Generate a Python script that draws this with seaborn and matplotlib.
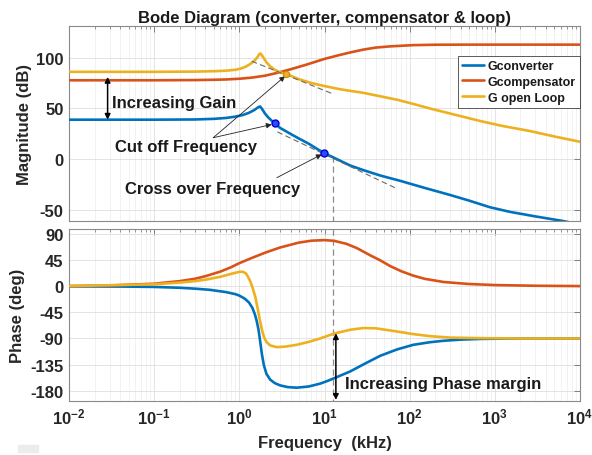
import matplotlib
matplotlib.use("Agg")
import matplotlib.pyplot as plt
import pandas as pd
import seaborn as sns
from matplotlib.lines import Line2D
from matplotlib.patches import Rectangle
from matplotlib.ticker import FixedLocator, LogLocator, NullFormatter

# ---- frequency response data (frequency in kHz) ----
conv_mag_f = [0.01, 0.1, 0.3, 0.5, 0.7, 0.9, 1.1, 1.3, 1.5, 1.65, 1.75, 1.85, 2.0, 2.2, 2.4,
              2.62, 3.0, 3.5, 4.0, 5.0, 6.5, 8.1, 9.9, 13, 20, 28.5, 45, 77, 150, 300, 500,
              877, 1500, 3000, 6300, 10000]
conv_mag_db = [39, 39, 39.2, 39.8, 40.7, 42, 43.6, 45.8, 48.5, 51, 52, 49.5, 45, 41, 38,
               35.3, 31, 27.8, 25, 20.5, 15.5, 10.5, 6.2, 1.5, -6, -10.5, -15.8, -21, -28, -35, -40.5,
               -47, -51.5, -56, -60.5, -64]

comp_mag_f = [0.01, 0.1, 0.3, 0.5, 0.7, 1.0, 1.4, 2.0, 2.8, 4.0, 6.0, 10, 15, 20, 28.5, 40,
              59, 110, 200, 500, 1000, 10000]
comp_mag_db = [77.7, 77.7, 77.9, 78.2, 78.5, 79.2, 80.3, 82.2, 85.0, 88.5, 92.8, 98.7, 102.5,
               105, 107.8, 109.8, 111, 112.2, 112.6, 112.7, 112.7, 112.7]

loop_mag_f = [0.01, 0.1, 0.3, 0.5, 0.7, 0.9, 1.05, 1.2, 1.35, 1.5, 1.62, 1.72, 1.78, 1.85,
              1.95, 2.1, 2.3, 2.6, 3.0, 3.5, 3.9, 5.0, 7.0, 10, 15, 20, 28.5, 45, 71, 110, 173,
              300, 680, 1200, 2600, 5000, 10000]
loop_mag_db = [86, 86, 86.2, 86.6, 87.1, 88, 89.3, 91.2, 93.8, 96.8, 100, 103.5, 104, 102,
               99, 95, 91.5, 88, 85.5, 84, 82.6, 78.8, 75, 72, 69, 67.3, 65.4, 62, 58.6, 54.5, 50,
               45, 37.6, 33, 27.8, 22.5, 17.3]

conv_ph_f = [0.01, 0.05, 0.1, 0.2, 0.3, 0.45, 0.7, 0.9, 1.0, 1.15, 1.3, 1.42, 1.52, 1.6, 1.68,
             1.76, 1.84, 1.94, 2.08, 2.3, 2.6, 3.0, 3.7, 4.7, 6.5, 8.9, 11, 13.3, 20, 28.5, 45,
             71, 110, 173, 250, 400, 680, 1200, 2000, 10000]
conv_ph_deg = [0, -0.5, -1, -2.5, -4, -6, -10, -13.5, -16, -21, -28, -37, -48, -60, -75,
               -96, -117, -136, -151, -161, -167, -171, -174, -175, -173, -168, -163, -158, -147,
               -135, -120, -109, -101, -96.5, -94, -92, -90.8, -90.3, -90, -90]

comp_ph_f = [0.01, 0.03, 0.1, 0.2, 0.3, 0.4, 0.6, 0.8, 1.0, 1.4, 2.0, 3.0, 5.0, 7.0, 10, 13,
             18, 24, 35, 45, 59, 80, 110, 150, 250, 500, 1000, 3000, 10000]
comp_ph_deg = [0.5, 1.5, 4.5, 9, 13, 17.5, 25.5, 33, 40, 49, 58, 67, 75.5, 78.8, 79.8, 78.5,
               73.5, 66, 53, 45, 35, 26, 18.5, 13, 7.5, 4, 2.2, 1, 0.4]

loop_ph_f = [0.01, 0.1, 0.2, 0.3, 0.4, 0.6, 0.8, 1.0, 1.1, 1.2, 1.27, 1.35, 1.45, 1.55, 1.65,
             1.75, 1.85, 1.95, 2.08, 2.3, 2.75, 3.5, 4.7, 6.5, 8.9, 11.6, 13.9, 20, 28.5, 40,
             71, 110, 173, 300, 680, 2000, 10000]
loop_ph_deg = [0.5, 3.5, 6.5, 9, 11.5, 16.5, 21.5, 25, 25.3, 22, 16, 8, -5, -20, -40,
               -60, -76, -88, -96, -102, -105, -104, -101, -96, -90, -84, -80.5, -75, -72, -72.5,
               -78, -82.5, -86, -88.5, -89.5, -90, -90]

series_names = ["Gconverter", "Gcompensator", "G open Loop"]
series_colors = ["#0072BD", "#D95319", "#EDB120"]

# marked points: cut-off (converter, open loop) and cross-over (converter)
cutoff_conv = (2.62, 35.3)
cutoff_loop = (3.5, 84.0)
crossover_conv = (9.9, 6.2)

# asymptote guide lines
guide_conv_f, guide_conv_db = [2.8, 70.5], [27.0, -28.7]
guide_loop_f, guide_loop_db = [1.4, 12.5], [96.4, 64.4]

# frequency of the phase-margin marker line
margin_f = 12.7

mag_ticks = [-50, 0, 50, 100]
phase_ticks = [-180, -135, -90, -45, 0, 45, 90]
decade_ticks = [1e-2, 1e-1, 1e0, 1e1, 1e2, 1e3, 1e4]
decade_labels = [r"$\mathbf{10^{-2}}$", r"$\mathbf{10^{-1}}$", r"$\mathbf{10^{0}}$",
                 r"$\mathbf{10^{1}}$", r"$\mathbf{10^{2}}$", r"$\mathbf{10^{3}}$",
                 r"$\mathbf{10^{4}}$"]


def long_frame(parts):
    frames = [pd.DataFrame({"freq": f, "value": v, "series": name}) for name, f, v in parts]
    return pd.concat(frames, ignore_index=True)


mag_df = long_frame([
    ("Gconverter", conv_mag_f, conv_mag_db),
    ("Gcompensator", comp_mag_f, comp_mag_db),
    ("G open Loop", loop_mag_f, loop_mag_db),
])
phase_df = long_frame([
    ("Gconverter", conv_ph_f, conv_ph_deg),
    ("Gcompensator", comp_ph_f, comp_ph_deg),
    ("G open Loop", loop_ph_f, loop_ph_deg),
])

sns.set_theme(style="whitegrid")
plt.rcParams.update({
    "font.family": ["Liberation Sans", "DejaVu Sans"],
    "font.weight": "bold",
    "axes.labelweight": "bold",
    "axes.titleweight": "bold",
    "axes.unicode_minus": False,
    "mathtext.fontset": "custom",
    "mathtext.rm": "Liberation Sans:bold",
    "mathtext.bf": "Liberation Sans:bold",
    "mathtext.it": "Liberation Sans:bold",
    "text.color": "#1a1a1a",
})

W, H = 592, 456
fig = plt.figure(figsize=(W / 100, H / 100), dpi=100, facecolor="white")
ax1 = fig.add_axes([69 / W, 1 - 222 / H, 511 / W, 195 / H])
ax2 = fig.add_axes([69 / W, 1 - 402 / H, 511 / W, 172 / H])

palette = dict(zip(series_names, series_colors))
for ax, df in ((ax1, mag_df), (ax2, phase_df)):
    ax.set_xscale("log")
    sns.lineplot(data=df, x="freq", y="value", hue="series", hue_order=series_names,
                 palette=palette, estimator=None, sort=False, lw=1.9, ax=ax,
                 legend=False, zorder=3)
    for ln in ax.lines:
        ln.set_solid_joinstyle("round")

for ax in (ax1, ax2):
    ax.set_xlim(1e-2, 1e4)
    ax.set_facecolor("white")
    ax.xaxis.set_major_locator(FixedLocator(decade_ticks))
    ax.xaxis.set_minor_locator(LogLocator(base=10, subs=range(2, 10), numticks=20))
    ax.xaxis.set_minor_formatter(NullFormatter())
    ax.grid(True, which="major", color="#dedede", lw=0.6)
    ax.grid(True, which="minor", axis="x", color="#ededed", lw=0.5)
    ax.tick_params(which="both", direction="in", top=True, right=True,
                   color="#6e6e6e", labelsize=12, labelcolor="#262626", pad=4)
    ax.tick_params(which="major", length=4, width=0.6)
    ax.tick_params(which="minor", length=2.2, width=0.5)
    for sp in ax.spines.values():
        sp.set_color("#8a8a8a")
        sp.set_linewidth(0.8)
    ax.set_axisbelow(True)

# ---- magnitude panel ----
ax1.set_ylim(-60.5, 131)
ax1.set_yticks(mag_ticks)
ax1.set_xticklabels([])
ax1.set_xlabel("")
ax1.set_ylabel("Magnitude (dB)", fontsize=12)
ax1.yaxis.set_label_coords(-0.072, 0.5)
ax1.set_title("Bode Diagram (converter, compensator & loop)", fontsize=12, pad=3)

ax1.plot(guide_conv_f, guide_conv_db, color="#6a6a6a", lw=0.8, ls=(0, (5, 3)), zorder=4)
ax1.plot(guide_loop_f, guide_loop_db, color="#6a6a6a", lw=0.8, ls=(0, (5, 3)), zorder=4)
ax1.plot([margin_f, margin_f], [3.0, -60.5], color="#8c8c8c", lw=0.9, ls=(0, (5, 3)), zorder=2)

ax1.plot(*cutoff_conv, marker="o", ms=5, mfc="#2a4bff", mec="#0000d0", mew=1.0, zorder=6)
ax1.plot(*crossover_conv, marker="o", ms=5, mfc="#2a4bff", mec="#0000d0", mew=1.0, zorder=6)
ax1.plot(*cutoff_loop, marker="o", ms=4.5, mfc="#EDB120", mec="#c98a10", mew=0.8, zorder=6)

arrow_kw = dict(arrowstyle="-|>", color="#222222", lw=0.6, mutation_scale=8,
                shrinkA=0, shrinkB=0)
ax1.annotate("", xy=(2.4, 34.3), xytext=(0.494, 21.3), arrowprops=arrow_kw, zorder=5)
ax1.annotate("", xy=(3.44, 81.7), xytext=(0.494, 21.3), arrowprops=arrow_kw, zorder=5)
ax1.annotate("", xy=(9.27, 4.9), xytext=(2.75, -18.0), arrowprops=arrow_kw, zorder=5)

dbl_kw = dict(arrowstyle="<|-|>", color="black", lw=1.1, mutation_scale=8,
              shrinkA=0, shrinkB=0)
ax1.annotate("", xy=(0.0284, 81.0), xytext=(0.0284, 39.0), arrowprops=dbl_kw, zorder=5)

ax1.text(0.0317, 55.6, "Increasing Gain", fontsize=12, ha="left", va="center", zorder=5)
ax1.text(0.0347, 13.0, "Cut off Frequency", fontsize=12, ha="left", va="center", zorder=5)
ax1.text(0.0455, -28.4, "Cross over Frequency", fontsize=12, ha="left", va="center", zorder=5)

handles = [Line2D([0], [0], color=c, lw=1.9) for c in series_colors]
leg = ax1.legend(handles, series_names, loc="upper right", bbox_to_anchor=(1.0, 0.848),
                 fontsize=9, frameon=True, fancybox=False, edgecolor="#404040",
                 framealpha=1, handlelength=1.75, borderpad=0.35, labelspacing=0.3,
                 handletextpad=0.3, borderaxespad=0)
leg.get_frame().set_linewidth(0.6)

# ---- phase panel ----
ax2.set_ylim(-198, 99)
ax2.set_yticks(phase_ticks)
ax2.set_xticklabels(decade_labels)
ax2.set_ylabel("Phase (deg)", fontsize=12)
ax2.yaxis.set_label_coords(-0.086, 0.5)
ax2.set_xlabel("Frequency  (kHz)", fontsize=12)
ax2.xaxis.set_label_coords(0.5, -0.2)

ax2.plot([margin_f, margin_f], [99, -198], color="#8c8c8c", lw=0.9, ls=(0, (5, 3)), zorder=2)
ax2.annotate("", xy=(13.6, -81.0), xytext=(13.6, -196.0), arrowprops=dbl_kw, zorder=5)
ax2.text(17.4, -167, "Increasing Phase margin", fontsize=12, ha="left", va="center", zorder=5)

fig.patches.append(Rectangle((18 / W, 1 - 453 / H), 20 / W, 7 / H,
                             transform=fig.transFigure, color="#ececec", zorder=0))

fig.savefig("out.png", dpi=100, facecolor="white")
